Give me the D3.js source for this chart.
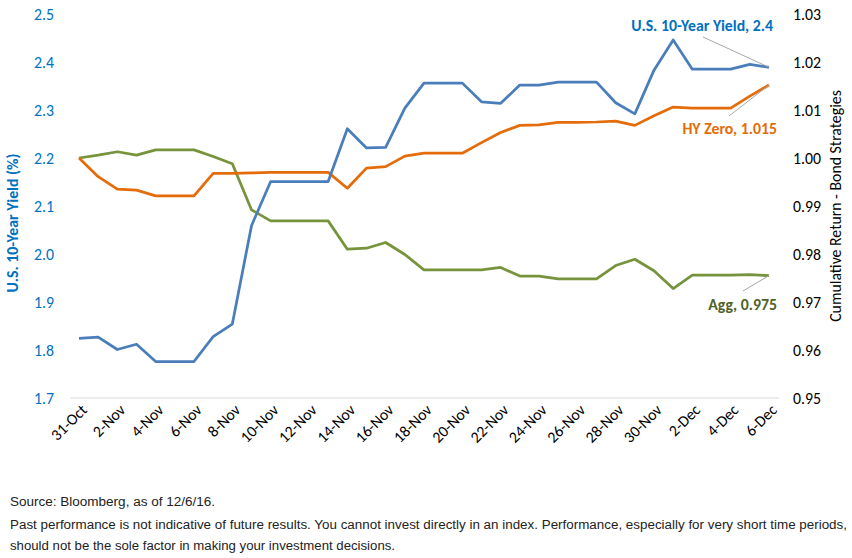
<!DOCTYPE html>
<html>
<head>
<meta charset="utf-8">
<script src="https://cdn.jsdelivr.net/npm/d3@7"></script>
<style>
  html, body { margin: 0; padding: 0; background: #fff; }
  svg { display: block; }
</style>
</head>
<body>
<svg id="chart" width="852" height="558"></svg>
<script>
// ---- data ----
const dates = ["31-Oct","1-Nov","2-Nov","3-Nov","4-Nov","5-Nov","6-Nov","7-Nov","8-Nov","9-Nov",
  "10-Nov","11-Nov","12-Nov","13-Nov","14-Nov","15-Nov","16-Nov","17-Nov","18-Nov","19-Nov",
  "20-Nov","21-Nov","22-Nov","23-Nov","24-Nov","25-Nov","26-Nov","27-Nov","28-Nov","29-Nov",
  "30-Nov","1-Dec","2-Dec","3-Dec","4-Dec","5-Dec","6-Dec"];
const yield10 = [1.824,1.827,1.801,1.812,1.776,1.776,1.776,1.828,1.854,2.059,
  2.151,2.151,2.151,2.151,2.261,2.221,2.222,2.304,2.356,2.356,
  2.356,2.317,2.314,2.352,2.352,2.358,2.358,2.358,2.315,2.292,
  2.383,2.446,2.385,2.385,2.385,2.395,2.389];
const hyZero = [1.0000,0.9961,0.9935,0.9933,0.9921,0.9921,0.9921,0.9968,0.9968,0.9969,
  0.9970,0.9970,0.9970,0.9970,0.9937,0.9979,0.9982,1.0004,1.0010,1.0010,
  1.0010,1.0032,1.0053,1.0068,1.0069,1.0074,1.0074,1.0075,1.0077,1.0068,
  1.0088,1.0106,1.0104,1.0104,1.0104,1.0129,1.0152];
const agg = [1.0000,1.0006,1.0013,1.0006,1.0017,1.0017,1.0017,1.0003,0.9988,0.9892,
  0.9869,0.9869,0.9869,0.9869,0.9810,0.9812,0.9824,0.9799,0.9767,0.9767,
  0.9767,0.9767,0.9772,0.9754,0.9754,0.9748,0.9748,0.9748,0.9776,0.9789,
  0.9765,0.9728,0.9756,0.9756,0.9756,0.9757,0.9755];
const leftTicks = [1.7,1.8,1.9,2.0,2.1,2.2,2.3,2.4,2.5];
const rightTicks = [0.95,0.96,0.97,0.98,0.99,1.00,1.01,1.02,1.03];
const xTickLabels = dates.filter((d, i) => i % 2 === 0);
const seriesLabels = ["U.S. 10-Year Yield, 2.4", "HY Zero, 1.015", "Agg, 0.975"];
const footnotes = ["Source: Bloomberg, as of 12/6/16.",
  "Past performance is not indicative of future results. You cannot invest directly in an index. Performance, especially for very short time periods,",
  "should not be the sole factor in making your investment decisions."];

// ---- drawing ----
const svg = d3.select("#chart");
const font = "Carlito, Lato, 'Open Sans', sans-serif";
const fs = 15.8;
const x = d3.scalePoint().domain(dates).range([79, 769]);
const yL = d3.scaleLinear().domain([1.7, 2.5]).range([398, 14]);
const yR = d3.scaleLinear().domain([0.95, 1.03]).range([398, 14]);

// baseline
svg.append("line").attr("x1", 70).attr("x2", 779).attr("y1", yL(1.7)).attr("y2", yL(1.7))
  .attr("stroke", "#D9D9D9").attr("stroke-width", 1);

// left axis
const gL = svg.append("g").attr("transform", "translate(58,0)")
  .call(d3.axisLeft(yL).tickValues(leftTicks).tickSize(0).tickPadding(4).tickFormat(d3.format(".1f")));
gL.select(".domain").remove();
gL.selectAll("text").attr("font-family", font).attr("font-size", fs).attr("fill", "#0070C0");

// right axis
const gR = svg.append("g").attr("transform", "translate(789,0)")
  .call(d3.axisRight(yR).tickValues(rightTicks).tickSize(0).tickPadding(4).tickFormat(d3.format(".2f")));
gR.select(".domain").remove();
gR.selectAll("text").attr("font-family", font).attr("font-size", fs).attr("fill", "#000");

// x labels
svg.append("g").selectAll("text").data(xTickLabels).join("text")
  .attr("transform", d => `translate(${x(d) + 5},${407}) rotate(-45)`)
  .attr("text-anchor", "end").attr("dy", "0.35em")
  .attr("font-family", font).attr("font-size", fs).attr("fill", "#000")
  .text(d => d);

// axis titles
svg.append("text").attr("transform", "translate(18,223) rotate(-90)")
  .attr("text-anchor", "middle").attr("font-family", font).attr("font-size", fs)
  .attr("font-weight", "bold").attr("fill", "#0070C0").text("U.S. 10-Year Yield (%)");
svg.append("text").attr("transform", "translate(841,206) rotate(-90)")
  .attr("text-anchor", "middle").attr("font-family", font).attr("font-size", fs)
  .attr("fill", "#000").text("Cumulative Return - Bond Strategies");

// lines
const lineL = d3.line().x((d, i) => x(dates[i])).y(d => yL(d));
const lineR = d3.line().x((d, i) => x(dates[i])).y(d => yR(d));
svg.append("path").datum(agg).attr("d", lineR).attr("fill", "none")
  .attr("stroke", "#77933C").attr("stroke-width", 2.75).attr("stroke-linejoin", "round");
svg.append("path").datum(hyZero).attr("d", lineR).attr("fill", "none")
  .attr("stroke", "#E46C0A").attr("stroke-width", 2.75).attr("stroke-linejoin", "round");
svg.append("path").datum(yield10).attr("d", lineL).attr("fill", "none")
  .attr("stroke", "#4A7EBB").attr("stroke-width", 2.75).attr("stroke-linejoin", "round");

// data labels with leader lines
const last = dates.length - 1;
const lx = x(dates[last]);
const leaders = [
  { x2: 703, y2: 37, y: yL(yield10[last]) },
  { x2: 729, y2: 116, y: yR(hyZero[last]) },
  { x2: 743, y2: 291, y: yR(agg[last]) }
];
svg.append("g").selectAll("line").data(leaders).join("line")
  .attr("x1", d => d.x2).attr("y1", d => d.y2).attr("x2", lx).attr("y2", d => d.y)
  .attr("stroke", "#A6A6A6").attr("stroke-width", 1);

const labelPos = [[773, 25, "#0070C0"], [777, 128, "#E46C0A"], [777, 304, "#4F6228"]];
svg.append("g").selectAll("text").data(seriesLabels).join("text")
  .attr("x", (d, i) => labelPos[i][0]).attr("y", (d, i) => labelPos[i][1])
  .attr("dy", "0.35em").attr("text-anchor", "end")
  .attr("font-family", font).attr("font-size", fs).attr("font-weight", "bold")
  .attr("fill", (d, i) => labelPos[i][2]).text(d => d);

// footnotes
const footY = [502, 525, 546];
const footW = [205, 837, 385];
svg.append("g").selectAll("text").data(footnotes).join("text")
  .attr("x", 10).attr("y", (d, i) => footY[i]).attr("dy", "0.35em")
  .attr("font-family", "'Liberation Sans Narrow', 'Liberation Sans', Arial, sans-serif")
  .attr("font-size", 12.5).attr("fill", "#222")
  .attr("textLength", (d, i) => footW[i]).attr("lengthAdjust", "spacingAndGlyphs")
  .text(d => d);
</script>
</body>
</html>
